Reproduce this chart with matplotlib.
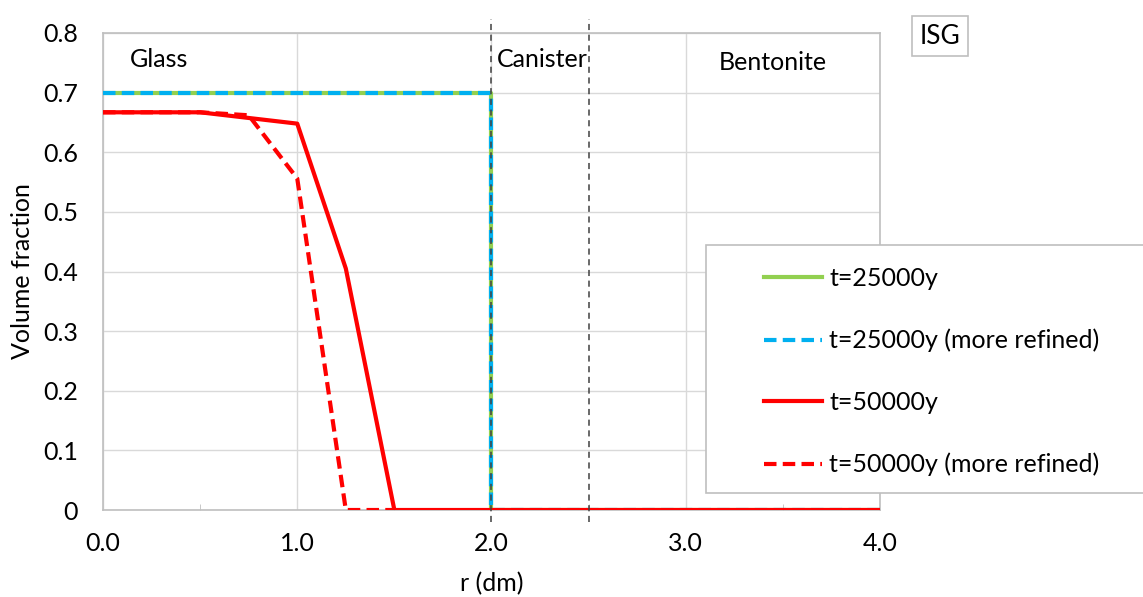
import matplotlib
matplotlib.use("Agg")
import matplotlib.pyplot as plt
from matplotlib.patches import Rectangle

# data
r_25k = [0.0, 0.5, 1.0, 1.5, 2.0, 2.0, 2.5, 3.0, 3.5, 4.0]
vf_25k = [0.7, 0.7, 0.7, 0.7, 0.7, 0.0, 0.0, 0.0, 0.0, 0.0]
r_25k_ref = [0.0, 0.5, 1.0, 1.5, 2.0, 2.0, 2.5, 3.0, 3.5, 4.0]
vf_25k_ref = [0.7, 0.7, 0.7, 0.7, 0.7, 0.0, 0.0, 0.0, 0.0, 0.0]
r_50k = [0.0, 0.5, 1.0, 1.25, 1.5, 2.0, 2.5, 3.0, 3.5, 4.0]
vf_50k = [0.667, 0.667, 0.648, 0.405, 0.0, 0.0, 0.0, 0.0, 0.0, 0.0]
r_50k_ref = [0.0, 0.5, 0.75, 1.0, 1.25, 1.5]
vf_50k_ref = [0.667, 0.667, 0.662, 0.556, 0.0, 0.0]

labels = ["t=25000y", "t=25000y (more refined)", "t=50000y", "t=50000y (more refined)"]
zones = ["Glass", "Canister", "Bentonite"]
zone_x = [0.14, 2.03, 3.17]
zone_y = [0.755, 0.755, 0.75]
boundaries = [2.0, 2.5]

plt.rcParams["font.family"] = ["Lato", "DejaVu Sans"]
FS = 18
W, H = 1143, 597
fig = plt.figure(figsize=(W / 100, H / 100), dpi=100)
ax = fig.add_axes([103 / W, 1 - 510 / H, (880 - 103) / W, (510 - 33) / H])

green = "#92D050"
blue = "#00B0F0"
red = "#FF0000"

ax.plot(r_25k, vf_25k, color=green, lw=3, label=labels[0], zorder=3)
ax.plot(r_25k_ref, vf_25k_ref, color=blue, lw=3, ls=(0, (3, 1.5)), label=labels[1], zorder=4)
ax.plot(r_50k, vf_50k, color=red, lw=3, label=labels[2], zorder=5)
ax.plot(r_50k_ref, vf_50k_ref, color=red, lw=3, ls=(0, (3, 1.5)), label=labels[3], zorder=5)

for b in boundaries:
    ax.axvline(b, ymin=-0.025, ymax=1.03, color="#404040", lw=1.1, ls=(0, (4, 3)),
               clip_on=False, zorder=6)

for name, x, y in zip(zones, zone_x, zone_y):
    ax.text(x, y, name, fontsize=FS, va="center", ha="left")

ax.set_xlim(0, 4.0)
ax.set_ylim(0, 0.8)
ax.set_xticks([0, 1, 2, 3, 4])
ax.set_xticklabels(["0.0", "1.0", "2.0", "3.0", "4.0"])
ax.set_xticks([0.5, 1.5, 2.5, 3.5], minor=True)
ax.set_yticks([0, 0.1, 0.2, 0.3, 0.4, 0.5, 0.6, 0.7, 0.8])
ax.set_yticklabels(["0", "0.1", "0.2", "0.3", "0.4", "0.5", "0.6", "0.7", "0.8"])
ax.tick_params(axis="both", which="major", length=0, labelsize=FS)
ax.tick_params(axis="x", which="major", pad=16)
ax.tick_params(axis="y", which="major", pad=18)
ax.tick_params(axis="x", which="minor", direction="in", length=4, color="#bfbfbf")
ax.grid(True, which="major", color="#d9d9d9", lw=1)
ax.set_axisbelow(True)
for s in ax.spines.values():
    s.set_color("#bfbfbf")
    s.set_linewidth(1.2)

ax.set_xlabel("r (dm)", fontsize=FS, va="center")
ax.set_ylabel("Volume fraction", fontsize=FS, va="center")
ax.xaxis.set_label_coords(0.5006, -0.155)
ax.yaxis.set_label_coords(-0.104, 0.501)

# legend box
fig.patches.append(Rectangle((706 / W, 1 - 493 / H), (W + 5 - 706) / W, (493 - 245) / H,
                             transform=fig.transFigure, facecolor="white",
                             edgecolor="#bfbfbf", lw=1.2, zorder=10))
leg = fig.legend(loc="upper left", bbox_to_anchor=(764 / W, 1 - 267 / H), frameon=False,
                 fontsize=FS, handlelength=2.3, handletextpad=0.3, labelspacing=1.55,
                 borderpad=0, borderaxespad=0)
leg.set_zorder(11)

# ISG tag
fig.text(940 / W, 1 - 36 / H, "ISG", fontsize=FS + 1, ha="center", va="center",
         bbox=dict(boxstyle="square,pad=0.3", facecolor="white", edgecolor="#bfbfbf", lw=1.2))

fig.savefig("out.png", dpi=100)
